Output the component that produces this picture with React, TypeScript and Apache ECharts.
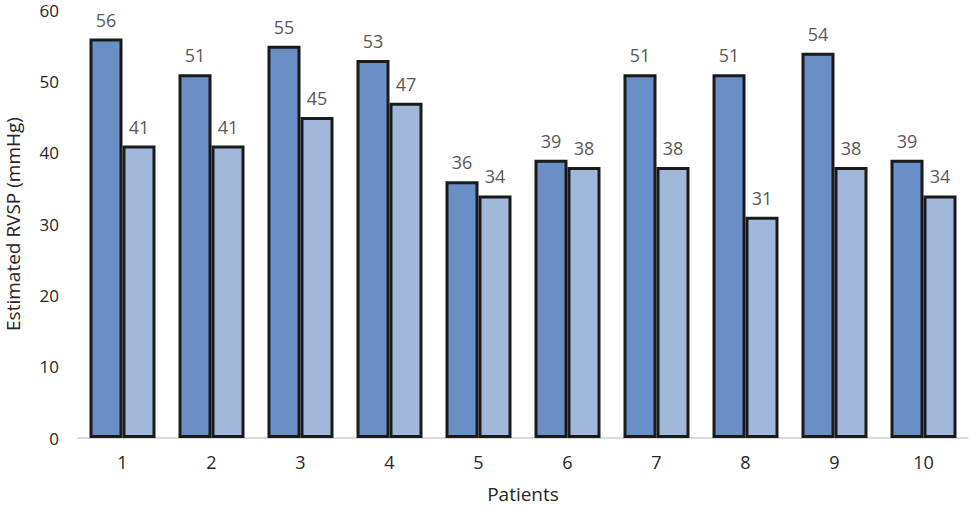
import React, { useEffect, useRef } from "react";
import * as echarts from "echarts";

const categories = ["1", "2", "3", "4", "5", "6", "7", "8", "9", "10"];
const seriesA = [56, 51, 55, 53, 36, 39, 51, 51, 54, 39];
const seriesB = [41, 41, 45, 47, 34, 38, 38, 31, 38, 34];
const yTicks = { min: 0, max: 60, interval: 10 };

const FONT = "'Open Sans', 'Noto Sans', sans-serif";

export default function App() {
  const ref = useRef<HTMLDivElement>(null);
  useEffect(() => {
    if (!ref.current) return;
    const chart = echarts.init(ref.current, null, { renderer: "svg" });
    const label = {
      show: true,
      position: "top",
      distance: 10,
      color: "#595959",
      fontSize: 18,
      fontFamily: FONT,
    };
    chart.setOption({
      animation: false,
      grid: { left: 78, right: 2, top: 10, bottom: 74, outerBoundsMode: "none", containLabel: false },
      xAxis: {
        type: "category",
        data: categories,
        name: "Patients",
        nameLocation: "middle",
        nameGap: 46,
        nameTextStyle: { color: "#262626", fontSize: 19, fontFamily: FONT },
        axisLine: { lineStyle: { color: "#d9d9d9", width: 2 } },
        axisTick: { show: false },
        axisLabel: { color: "#262626", fontSize: 18, fontFamily: FONT, margin: 15 },
      },
      yAxis: {
        type: "value",
        min: yTicks.min,
        max: yTicks.max,
        interval: yTicks.interval,
        name: "Estimated RVSP (mmHg)",
        nameLocation: "middle",
        nameGap: 56,
        nameTextStyle: { color: "#262626", fontSize: 19, fontFamily: FONT },
        splitLine: { show: false },
        axisLine: { show: false },
        axisTick: { show: false },
        axisLabel: { color: "#262626", fontSize: 17, fontFamily: FONT, margin: 19, padding: [4, 0, 0, 0] },
      },
      series: [
        {
          type: "bar",
          data: seriesA,
          barWidth: 33,
          barGap: "0%",
          itemStyle: { color: "#6a8fc7", borderColor: "#1a1a1a", borderWidth: 3 },
          label,
        },
        {
          type: "bar",
          data: seriesB,
          barWidth: 33,
          barGap: "0%",
          itemStyle: { color: "#a2b8db", borderColor: "#1a1a1a", borderWidth: 3 },
          label,
        },
      ],
    });
    return () => chart.dispose();
  }, []);
  return <div ref={ref} style={{ width: 970, height: 512, position: "absolute", left: 0, top: 0 }} />;
}
